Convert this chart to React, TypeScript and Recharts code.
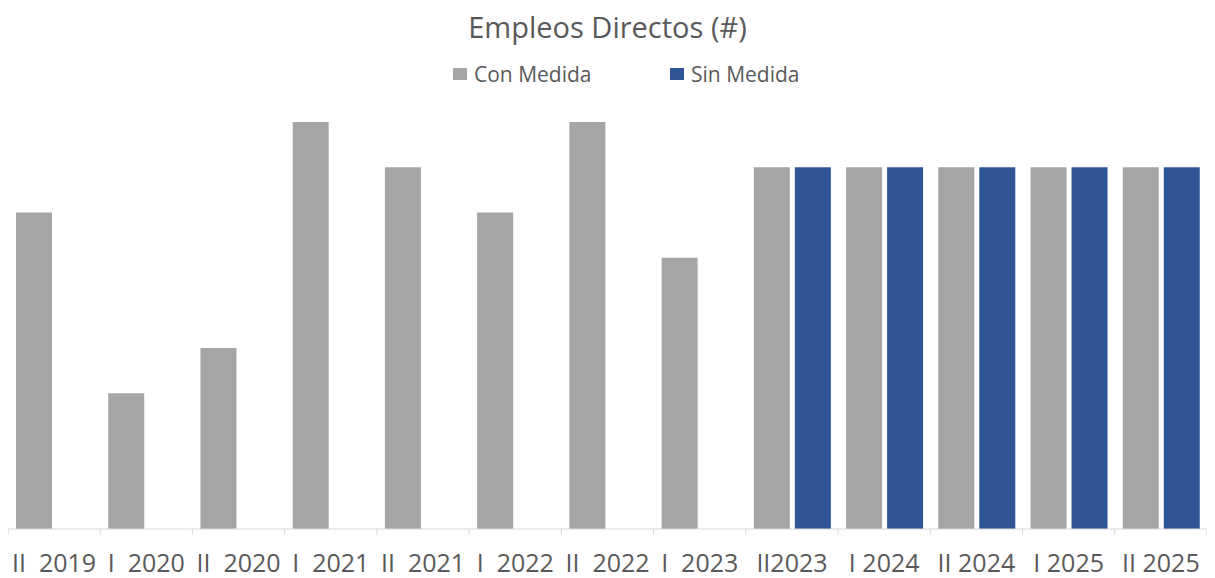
import React from "react";
import { BarChart, Bar, XAxis, YAxis, Legend } from "recharts";

const categories = [
  "II  2019",
  "I  2020",
  "II  2020",
  "I  2021",
  "II  2021",
  "I  2022",
  "II  2022",
  "I  2023",
  "II2023",
  "I 2024",
  "II 2024",
  "I 2025",
  "II 2025",
];
const conMedida = [7, 3, 4, 9, 8, 7, 9, 6, 8, 8, 8, 8, 8];
const sinMedida = [null, null, null, null, null, null, null, null, 8, 8, 8, 8, 8];

const data = categories.map((name, i) => ({
  name,
  con: conMedida[i],
  sin: sinMedida[i],
}));

const WIDTH = 1199;
const HEIGHT = 570;
const BAND = WIDTH / categories.length;
const FONT = "'Open Sans', sans-serif";
const TEXT = "#595959";
const GRAY = "#a5a5a5";
const BLUE = "#2f5597";
const AXIS = "#d9d9d9";

// Excel-style ticks sit between categories, not under them
const CategoryTick = (props: any) => {
  const { x, y, payload, index } = props;
  const left = x - BAND / 2;
  return (
    <g>
      <line x1={left} y1={y} x2={left} y2={y + 6} stroke={AXIS} />
      {index === categories.length - 1 && (
        <line x1={x + BAND / 2} y1={y} x2={x + BAND / 2} y2={y + 6} stroke={AXIS} />
      )}
      <text
        x={x}
        y={y + 43}
        textAnchor="middle"
        fill={TEXT}
        fontSize={25}
        fontFamily={FONT}
        style={{ whiteSpace: "pre" }}
      >
        {payload.value}
      </text>
    </g>
  );
};

const LegendContent = () => (
  <div style={{ position: "relative", height: 20, fontFamily: FONT, fontSize: 21, color: TEXT }}>
    <div style={{ position: "absolute", left: 445, top: 0, display: "flex", alignItems: "center" }}>
      <span style={{ width: 14, height: 12, background: GRAY, display: "inline-block", marginRight: 7 }} />
      Con Medida
    </div>
    <div style={{ position: "absolute", left: 662, top: 0, display: "flex", alignItems: "center" }}>
      <span style={{ width: 14, height: 12, background: BLUE, display: "inline-block", marginRight: 7 }} />
      Sin Medida
    </div>
  </div>
);

export default function App() {
  return (
    <div style={{ position: "relative", width: WIDTH, height: HEIGHT }}>
      <div
        style={{
          position: "absolute",
          top: -1,
          left: 0,
          width: WIDTH,
          textAlign: "center",
          fontFamily: FONT,
          fontSize: 29,
          color: TEXT,
        }}
      >
        Empleos Directos (#)
      </div>
      <BarChart
        width={WIDTH}
        height={HEIGHT}
        data={data}
        margin={{ top: 94, right: 0, bottom: 0, left: 0 }}
        barSize={36}
        barGap={5}
      >
        <XAxis
          dataKey="name"
          stroke={AXIS}
          tickLine={false}
          tickSize={0}
          tickMargin={0}
          height={49}
          interval={0}
          tick={<CategoryTick />}
        />
        <YAxis hide domain={[0, 9]} />
        <Legend
          verticalAlign="top"
          content={<LegendContent />}
          wrapperStyle={{ top: 52, left: 0, width: WIDTH }}
        />
        <Bar dataKey="con" name="Con Medida" fill={GRAY} isAnimationActive={false} />
        <Bar dataKey="sin" name="Sin Medida" fill={BLUE} isAnimationActive={false} />
      </BarChart>
    </div>
  );
}
